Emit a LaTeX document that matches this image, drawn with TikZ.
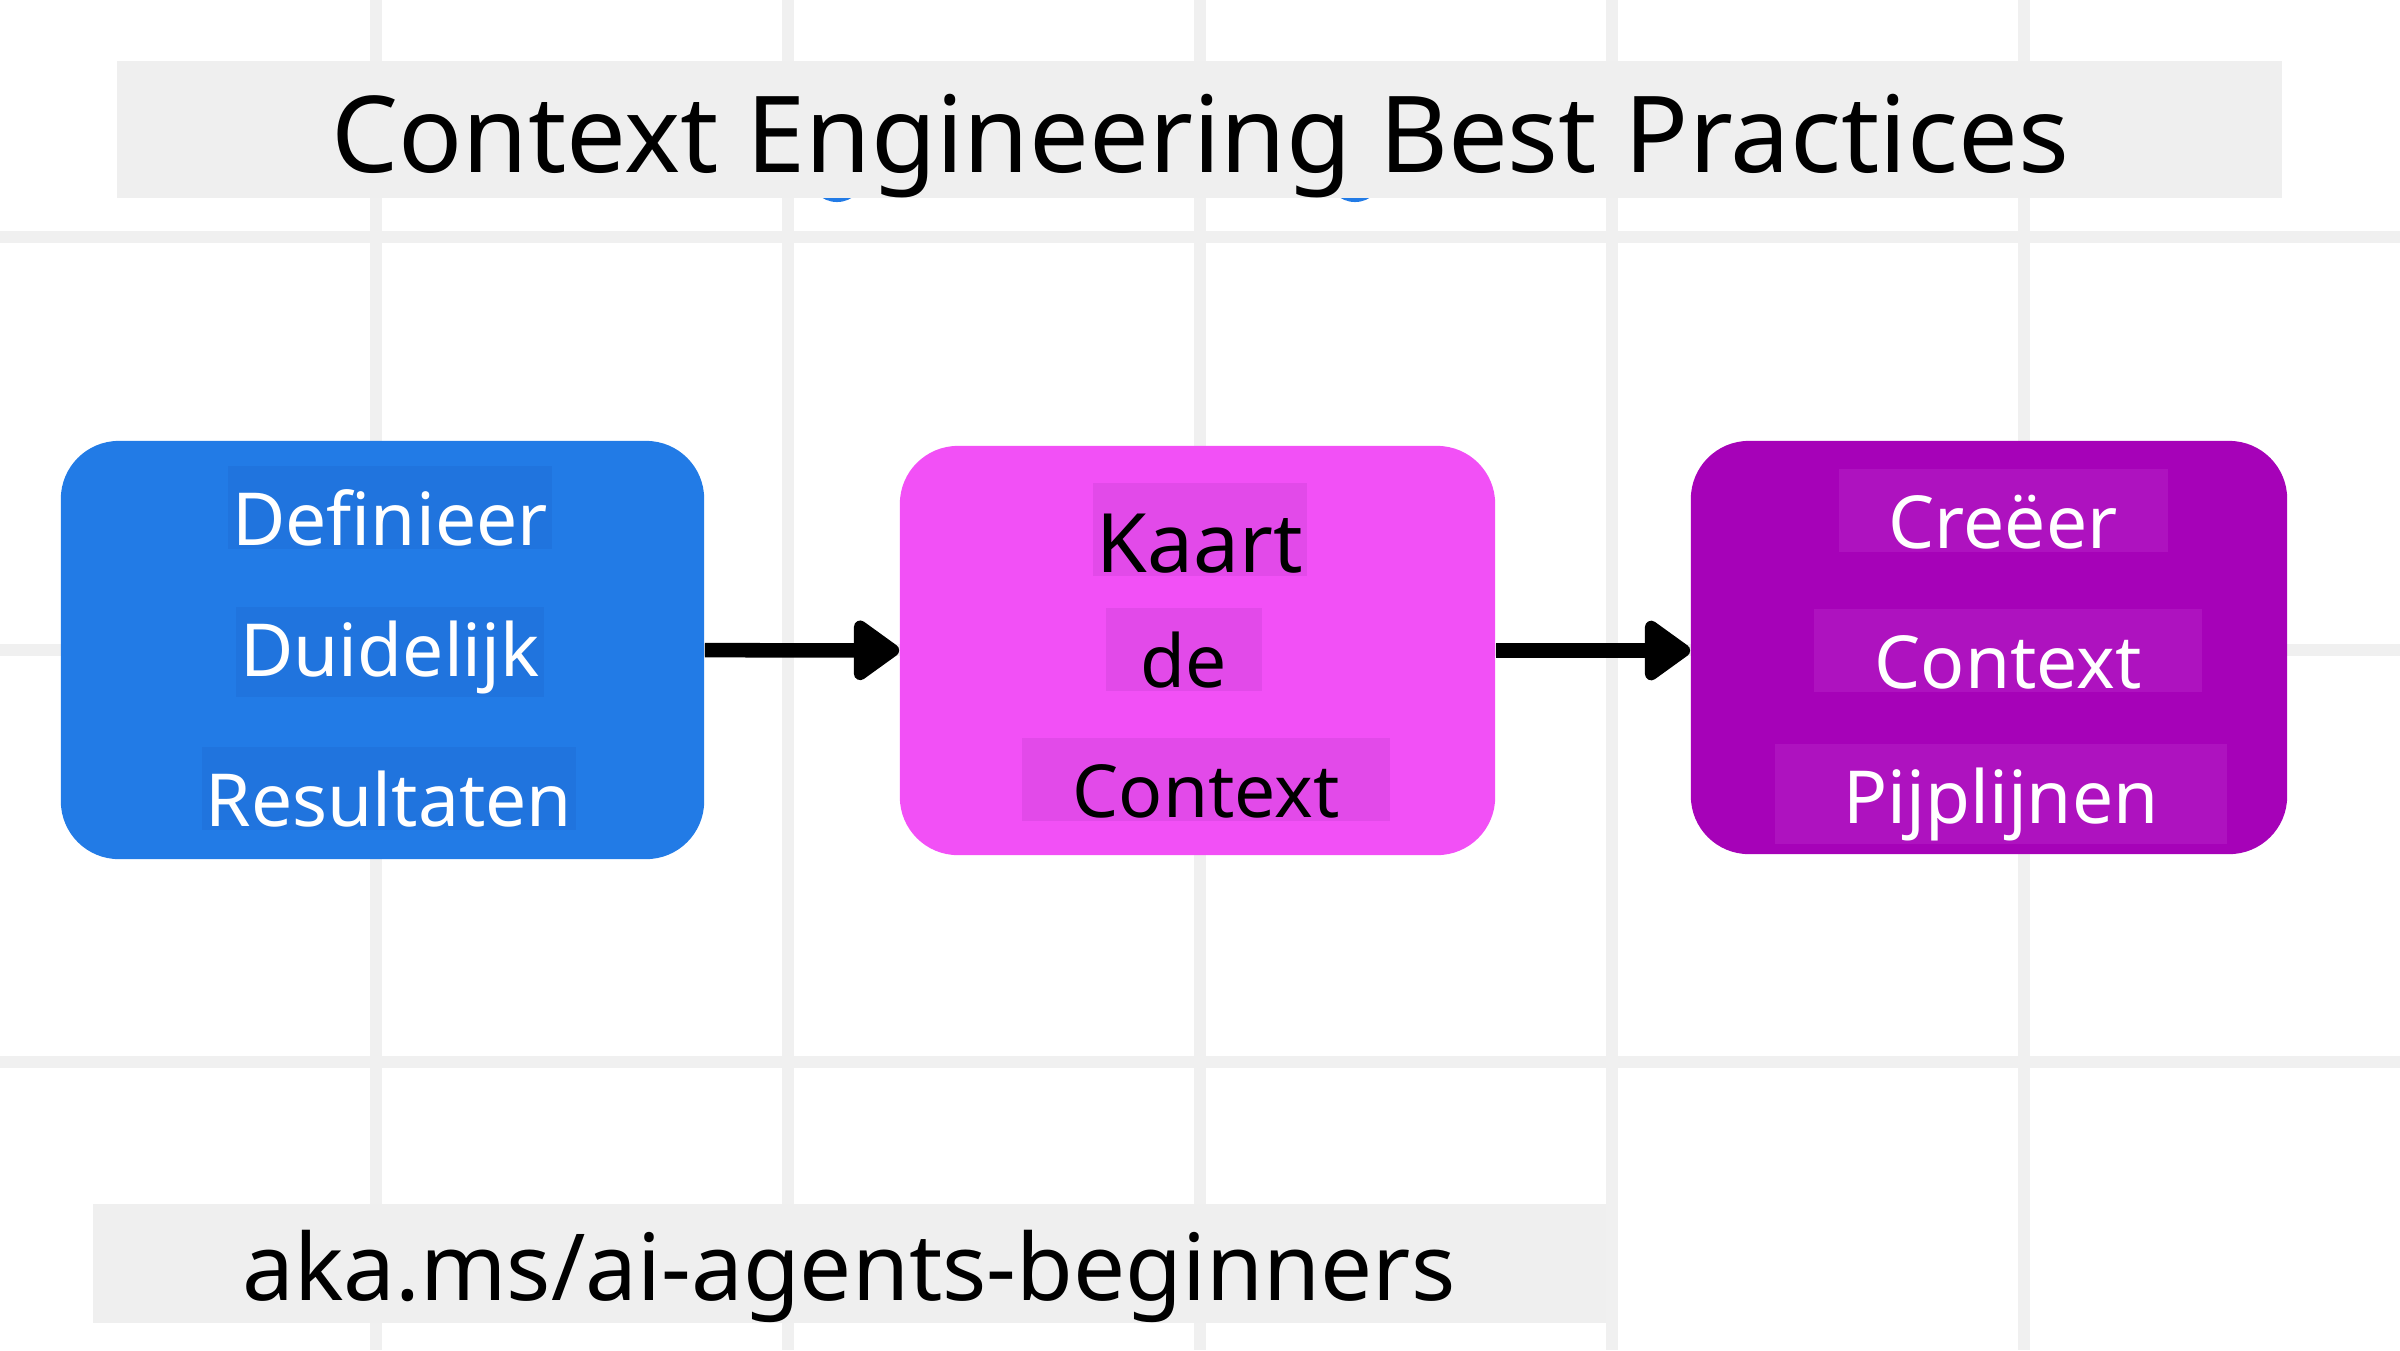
\documentclass[tikz,border=0pt]{standalone}
\usepackage{fontspec}
\setmainfont{Noto Sans}
\usetikzlibrary{arrows.meta}
\definecolor{gridgray}{HTML}{F0F0F0}
\definecolor{bandgray}{HTML}{EFEFEF}
\definecolor{stageblue}{HTML}{227BE6}
\definecolor{bluemark}{HTML}{2074DE}
\definecolor{stagepink}{HTML}{F250F6}
\definecolor{pinkmark}{HTML}{E24AE9}
\definecolor{stagepurple}{HTML}{A602B8}
\definecolor{purplemark}{HTML}{AE12BF}

\begin{document}
\begin{tikzpicture}[x=0.01cm,y=-0.01cm]
  \tikzset{grid style/.style = {draw=gridgray, line width=0.12cm},
           band style/.style = {fill=bandgray, inner sep=0pt},
           box style/.style = {rounded corners=0.58cm, inner sep=0pt},
           word style/.style = {anchor=base, inner xsep=0.04cm, inner ysep=0.03cm,
                                text height=0.76cm, font=\fontsize{20.8}{25}\selectfont},
           arrow style/.style = {line width=0.145cm,
                                 -{Triangle[length=0.5cm, width=0.68cm, round]}}}
  \useasboundingbox (0,0) rectangle (2400,1350);
  \fill[white] (0,0) rectangle (2400,1350);
  \foreach \gx in {376,788,1200,1612,2024} \draw[grid style] (\gx,0) -- (\gx,1350);
  \foreach \gy in {237,650,1062} \draw[grid style] (0,\gy) -- (2400,\gy);
  % bits peeking out under the title
  \fill[stageblue] (837,174) circle (0.28cm);
  \fill[stageblue] (1355,174) circle (0.28cm);

  \node[band style, minimum width=21.63cm, minimum height=1.37cm] (title) at (1199.5,129.5) {};
  \node[anchor=base, font=\fontsize{30.2}{36}\selectfont] (titletext) at (1200,172) {Context Engineering Best Practices};

  \node[box style, fill=stageblue, minimum width=6.43cm, minimum height=4.18cm] (define) at (382.5,650) {};
  \node[box style, fill=stagepink, minimum width=5.95cm, minimum height=4.09cm] (map) at (1197.5,650.5) {};
  \node[box style, fill=stagepurple, minimum width=5.96cm, minimum height=4.13cm] (create) at (1989,647.5) {};

  \node[word style, fill=bluemark, text=white] (def1) at (390,545) {Definieer};
  \node[word style, fill=bluemark, text=white, text height=0.66cm] (def2) at (390,676) {Duidelijk};
  \node[word style, fill=bluemark, text=white] (def3) at (389,826) {Resultaten};

  \node[word style, fill=pinkmark, text height=0.86cm, font=\fontsize{23.3}{28}\selectfont] (map1) at (1200,572) {Kaart};
  \node[word style, fill=pinkmark, inner xsep=0.35cm] (map2) at (1184,687) {de};
  \node[word style, fill=pinkmark, inner xsep=0.5cm] (map3) at (1206,817) {Context};

  \node[word style, fill=purplemark, text=white, inner xsep=0.5cm] (cre1) at (2003,548) {Creëer};
  \node[word style, fill=purplemark, text=white, inner xsep=0.6cm] (cre2) at (2008,688) {Context};
  \node[word style, fill=purplemark, text=white, inner xsep=0.68cm] (cre3) at (2001,823) {Pijplijnen};

  \draw[arrow style] (define) -- (map);
  \draw[arrow style] (map.east) -- (map.east -| create.west);

  \node[band style, minimum width=15.13cm, minimum height=1.19cm] (link) at (849.5,1263.5) {};
  \node[anchor=base, font=\fontsize{26.3}{31}\selectfont] (linktext) at (849,1300) {aka.ms/ai-agents-beginners};
\end{tikzpicture}
\end{document}
